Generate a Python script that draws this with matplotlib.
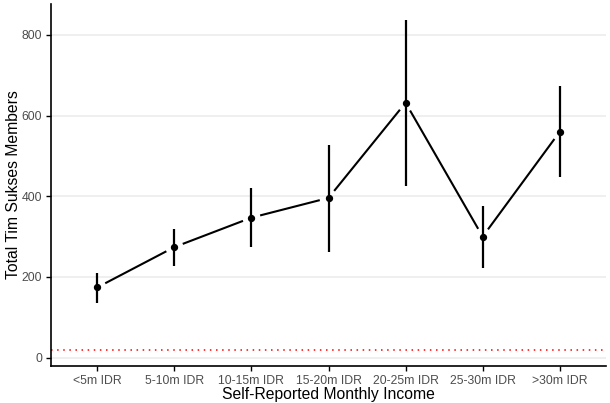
import numpy as np
import matplotlib
matplotlib.use("Agg")
import matplotlib.pyplot as plt

categories = ["<5m IDR", "5-10m IDR", "10-15m IDR", "15-20m IDR", "20-25m IDR", "25-30m IDR", ">30m IDR"]
means = [174, 274, 347, 396, 632, 300, 560]
lower = [136, 228, 274, 263, 426, 223, 448]
upper = [210, 318, 420, 527, 836, 375, 673]
ref_line = 20
yticks = [0, 200, 400, 600, 800]

plt.rcParams['font.family'] = ['Liberation Sans', 'DejaVu Sans']

fig = plt.figure(figsize=(6.10, 4.03), dpi=100)
ax = fig.add_axes([51/610, 37/403, 555/610, 362/403])

x = np.arange(1, len(categories) + 1)
ax.set_xlim(0.4, len(categories) + 0.6)
ax.set_ylim(-20.8, 876.8)

for t in yticks:
    ax.axhline(t, color="#EBEBEB", lw=1.1, zorder=0)

ax.axhline(ref_line, color="red", lw=1.1, ls=(0, (1, 3)), zorder=1)

ax.vlines(x, lower, upper, color="black", lw=1.6, zorder=3)
ax.scatter(x, means, s=18, color="black", zorder=4)

# path segments with gaps near points
fig.canvas.draw()
trans = ax.transData
inv = trans.inverted()
gap = 9.0
pts = trans.transform(np.column_stack([x, means]))
for i in range(len(pts) - 1):
    p0, p1 = pts[i], pts[i + 1]
    d = p1 - p0
    L = np.hypot(*d)
    u = d / L
    a = inv.transform(p0 + u * gap)
    b = inv.transform(p1 - u * gap)
    ax.plot([a[0], b[0]], [a[1], b[1]], color="black", lw=1.5, zorder=2, solid_capstyle="butt")

ax.set_xticks(x)
ax.set_xticklabels(categories)
ax.set_yticks(yticks)
ax.tick_params(axis="both", colors="black", labelcolor="#4D4D4D", labelsize=8.8, length=3.5, width=1.0, pad=3)
for s in ["top", "right"]:
    ax.spines[s].set_visible(False)
for s in ["left", "bottom"]:
    ax.spines[s].set_linewidth(1.2)

ax.set_xlabel("Self-Reported Monthly Income", fontsize=11.3, labelpad=0)
ax.set_ylabel("Total Tim Sukses Members", fontsize=11.3, labelpad=0)

fig.savefig("out.png", dpi=100)
